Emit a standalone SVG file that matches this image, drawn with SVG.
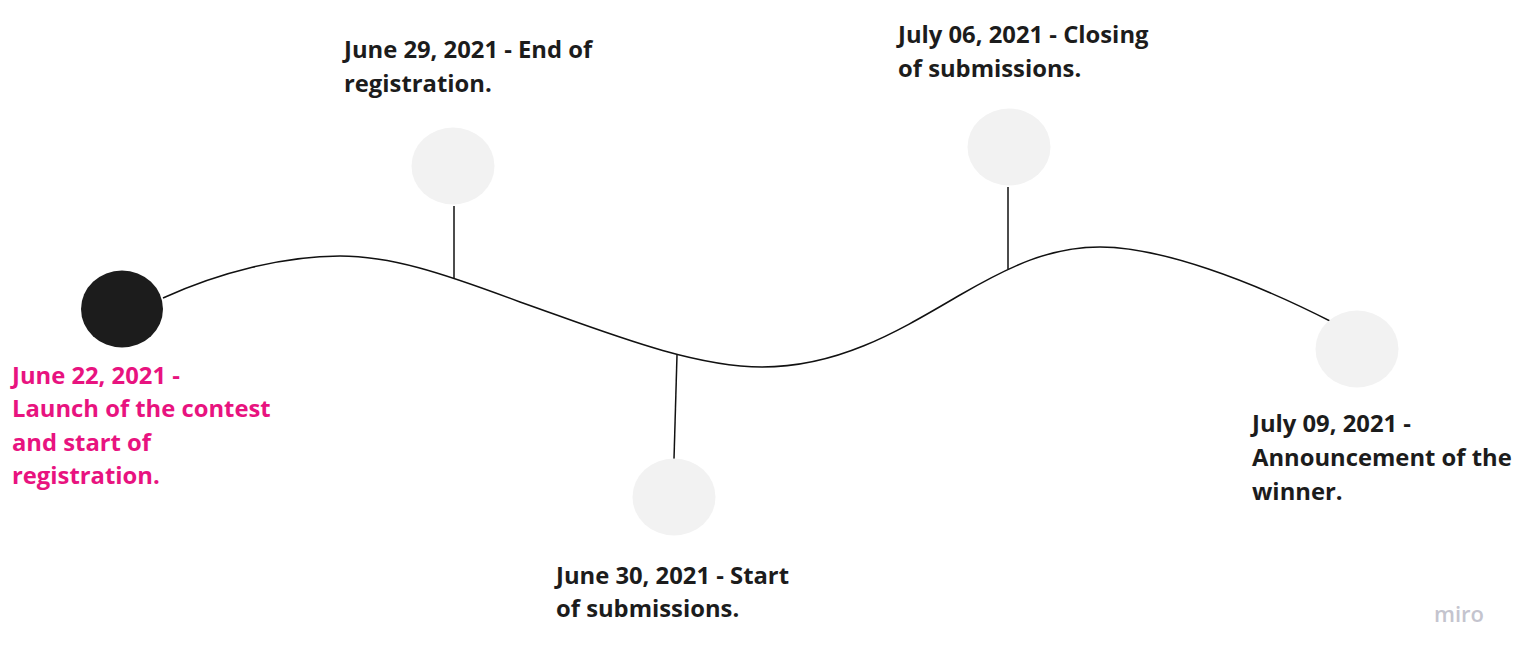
<svg xmlns="http://www.w3.org/2000/svg" width="1518" height="658" viewBox="0 0 1518 658">
<style>
.lbl{font-family:"Open Sans","Noto Sans",sans-serif;font-weight:700;font-size:23.8px;fill:#1c1c1c}
.pink{fill:#e8137f}
.dot{fill:#f2f2f2}
.ln{fill:none;stroke:#111;stroke-width:1.5}
</style>
<rect width="1518" height="658" fill="#ffffff"/>
<g id="connectors">
<path class="ln" d="M163,298 C220,272 285,256 340,256 C390,256 440,272 520,302 C600,330 690,367 762,367 C840,367 900,330 960,295 C1010,266 1050,247 1100,247 C1160,247 1250,280 1332,322"/>
<line class="ln" x1="454" y1="206" x2="454" y2="279"/>
<line class="ln" x1="677" y1="355" x2="674" y2="459"/>
<line class="ln" x1="1008" y1="187" x2="1008" y2="269"/>
</g>
<g id="node-jun22">
<ellipse cx="122" cy="309" rx="41" ry="38.5" fill="#1c1c1c"/>
<text class="lbl pink"><tspan x="12" y="384">June 22, 2021 -</tspan><tspan x="12" y="417">Launch of the contest</tspan><tspan x="12" y="451">and start of</tspan><tspan x="12" y="484">registration.</tspan></text>
</g>
<g id="node-jun29">
<ellipse class="dot" cx="453" cy="166" rx="41.5" ry="38.5"/>
<text class="lbl"><tspan x="344" y="58">June 29, 2021 - End of</tspan><tspan x="344" y="92">registration.</tspan></text>
</g>
<g id="node-jun30">
<ellipse class="dot" cx="674" cy="497" rx="41.5" ry="38.5"/>
<text class="lbl"><tspan x="556" y="584">June 30, 2021 - Start</tspan><tspan x="556" y="617">of submissions.</tspan></text>
</g>
<g id="node-jul06">
<ellipse class="dot" cx="1009" cy="147" rx="41.5" ry="38.5"/>
<text class="lbl"><tspan x="898" y="43">July 06, 2021 - Closing</tspan><tspan x="898" y="77">of submissions.</tspan></text>
</g>
<g id="node-jul09">
<ellipse class="dot" cx="1357" cy="349" rx="41.5" ry="38.5"/>
<text class="lbl"><tspan x="1252" y="432">July 09, 2021 -</tspan><tspan x="1252" y="466">Announcement of the</tspan><tspan x="1252" y="500">winner.</tspan></text>
</g>
<text x="1434" y="622" font-family="'Open Sans','Noto Sans',sans-serif" font-size="22" font-weight="600" fill="#c4c4ce">miro</text>
</svg>
